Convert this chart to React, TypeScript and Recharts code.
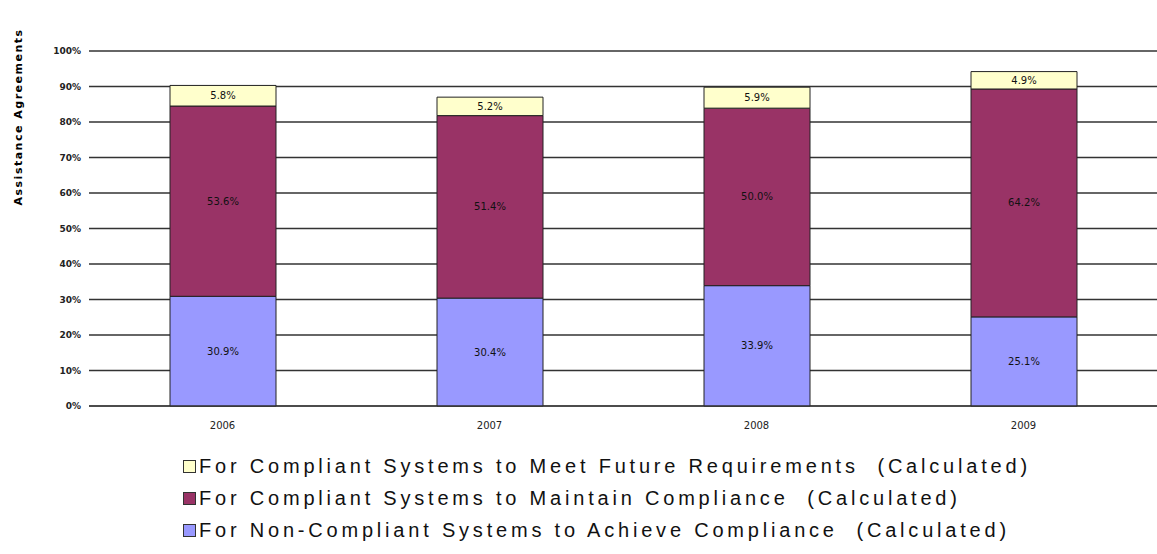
import React from "react";
import { BarChart, Bar, XAxis, YAxis, CartesianGrid, LabelList } from "recharts";

const years = ["2006", "2007", "2008", "2009"];
const nonCompliant = [30.9, 30.4, 33.9, 25.1];
const maintain = [53.6, 51.4, 50.0, 64.2];
const future = [5.8, 5.2, 5.9, 4.9];
const yTicks = [0, 10, 20, 30, 40, 50, 60, 70, 80, 90, 100];

const data = years.map((y, i) => ({
  year: y,
  nonCompliant: nonCompliant[i],
  maintain: maintain[i],
  future: future[i],
}));

// legend reads top-down, reverse of the stack
const legendItems = [
  { label: "For Compliant Systems to Meet Future Requirements  (Calculated)", color: "#FFFFCC" },
  { label: "For Compliant Systems to Maintain Compliance  (Calculated)", color: "#993366" },
  { label: "For Non-Compliant Systems to Achieve Compliance  (Calculated)", color: "#9999FF" },
];

const fmt = (v: any) => `${Number(v).toFixed(1)}%`;
const labelStyle = { fontSize: 10, fill: "#111", fontFamily: "DejaVu Sans", fontWeight: 500 } as const;

export default function App() {
  return (
    <div style={{ position: "absolute", left: 0, top: 0, width: 1157, height: 554, background: "#fff", fontFamily: "Liberation Sans, Arial, sans-serif" }}>
      <BarChart
        width={1157}
        height={440}
        data={data}
        margin={{ top: 51, right: 0, left: 29, bottom: 4 }}
        barSize={106}
      >
        <CartesianGrid vertical={false} stroke="#333" strokeWidth={1.5} />
        <XAxis
          dataKey="year"
          stroke="#333"
          tickLine={false}
          tick={{ fontSize: 10, fill: "#222", fontFamily: "DejaVu Sans" }}
          tickMargin={10}
        />
        <YAxis
          width={60}
          domain={[0, 100]}
          ticks={yTicks}
          tickFormatter={(v) => `${v}%`}
          axisLine={false}
          tickLine={false}
          tick={{ fontSize: 9, fill: "#222", fontFamily: "DejaVu Sans", fontWeight: 600 }}
          tickMargin={2}
          label={{
            value: "Assistance Agreements",
            angle: -90,
            position: "insideLeft",
            dx: -16,
            dy: -23,
            fill: "#000",
            style: { fontSize: 11, fontWeight: 700, fill: "#000", fontFamily: "DejaVu Sans", letterSpacing: 1.5 },
          }}
        />
        <Bar dataKey="nonCompliant" stackId="a" fill="#9999FF" stroke="#222" strokeWidth={1} isAnimationActive={false}>
          <LabelList dataKey="nonCompliant" position="center" formatter={fmt} style={labelStyle} />
        </Bar>
        <Bar dataKey="maintain" stackId="a" fill="#993366" stroke="#222" strokeWidth={1} isAnimationActive={false}>
          <LabelList dataKey="maintain" position="center" formatter={fmt} style={labelStyle} />
        </Bar>
        <Bar dataKey="future" stackId="a" fill="#FFFFCC" stroke="#222" strokeWidth={1} isAnimationActive={false}>
          <LabelList dataKey="future" position="center" formatter={fmt} style={labelStyle} />
        </Bar>
      </BarChart>
      <div style={{ position: "absolute", left: 183, top: 450 }}>
        {legendItems.map((it) => (
          <div key={it.label} style={{ display: "flex", alignItems: "center", height: 32 }}>
            <span style={{ width: 11, height: 11, background: it.color, border: "1px solid #333", marginRight: 3 }} />
            <span style={{ fontSize: 20, letterSpacing: 3.8, color: "#111", whiteSpace: "pre" }}>{it.label}</span>
          </div>
        ))}
      </div>
    </div>
  );
}
